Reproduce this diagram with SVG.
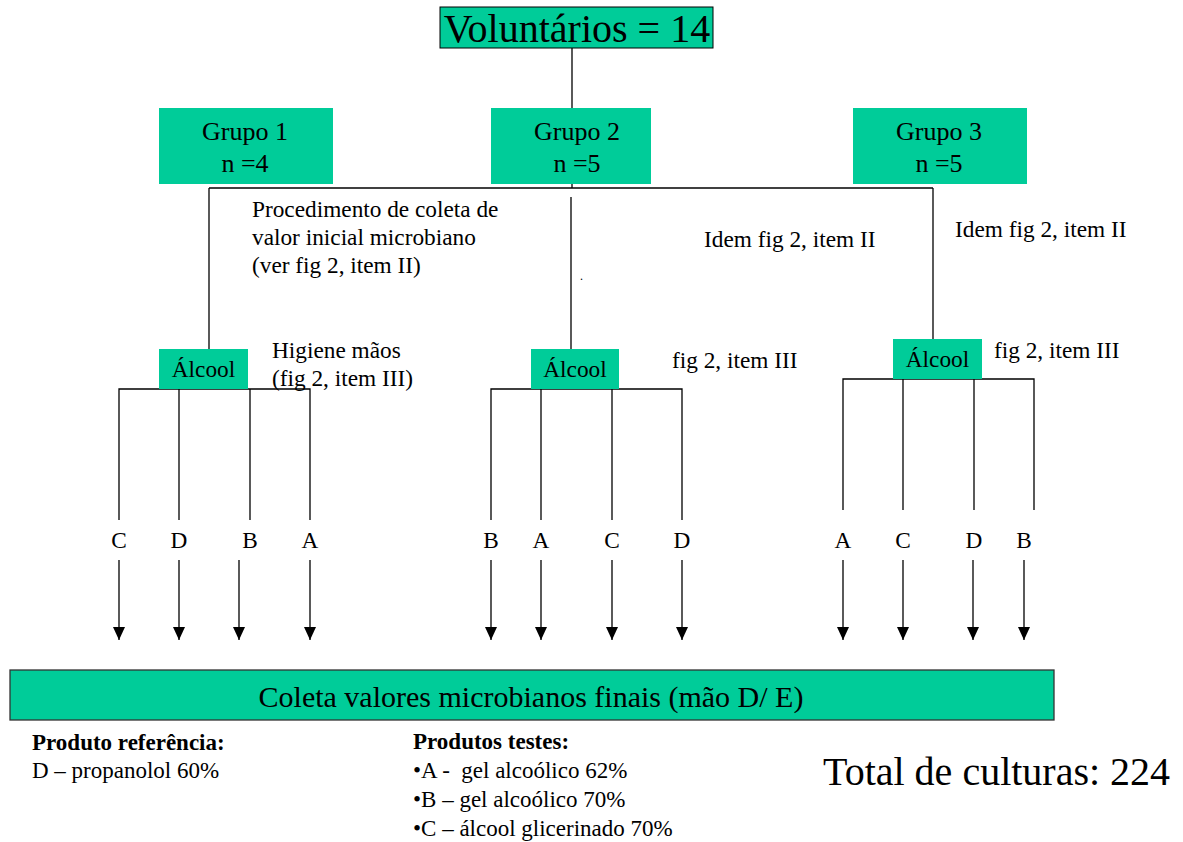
<svg xmlns="http://www.w3.org/2000/svg" width="1183" height="842" viewBox="0 0 1183 842">
<style>
text{font-family:"Liberation Serif","Times New Roman",serif;fill:#000}
.box{fill:#00CC99}
.ln{stroke:#000;stroke-width:1.3;fill:none}
.t23{font-size:23.3px}
.t25{font-size:26px}
.lg{font-size:23px}
.mid{text-anchor:middle}
</style>
<defs>
<marker id="ah2" markerWidth="12" markerHeight="14" refX="6" refY="13" markerUnits="userSpaceOnUse" viewBox="0 0 12 14">
<path d="M0,0 L12,0 L6,13 Z" fill="#000"/>
</marker>
</defs>
<rect width="1183" height="842" fill="#fff"/>
<g id="connectors">
<line class="ln" x1="572" y1="48" x2="572" y2="188"/>
<line class="ln" x1="209" y1="188" x2="933" y2="188"/>
<line class="ln" x1="209" y1="188" x2="209" y2="349"/>
<line class="ln" x1="571" y1="197" x2="571" y2="349"/>
<line class="ln" x1="933" y1="188" x2="933" y2="339"/>
<polyline class="ln" points="119,520 119,389 310,389 310,520"/>
<line class="ln" x1="179" y1="389" x2="179" y2="520"/>
<line class="ln" x1="250" y1="389" x2="250" y2="520"/>
<polyline class="ln" points="491,520 491,389 682,389 682,520"/>
<line class="ln" x1="541" y1="389" x2="541" y2="520"/>
<line class="ln" x1="612" y1="389" x2="612" y2="520"/>
<polyline class="ln" points="843,510 843,379 1034,379 1034,510"/>
<line class="ln" x1="903" y1="379" x2="903" y2="510"/>
<line class="ln" x1="974" y1="379" x2="974" y2="510"/>
<g class="ln">
<line x1="119" y1="560" x2="119" y2="640" marker-end="url(#ah2)"/>
<line x1="179" y1="560" x2="179" y2="640" marker-end="url(#ah2)"/>
<line x1="239" y1="560" x2="239" y2="640" marker-end="url(#ah2)"/>
<line x1="310" y1="560" x2="310" y2="640" marker-end="url(#ah2)"/>
<line x1="491" y1="560" x2="491" y2="640" marker-end="url(#ah2)"/>
<line x1="541" y1="560" x2="541" y2="640" marker-end="url(#ah2)"/>
<line x1="612" y1="560" x2="612" y2="640" marker-end="url(#ah2)"/>
<line x1="682" y1="560" x2="682" y2="640" marker-end="url(#ah2)"/>
<line x1="843" y1="560" x2="843" y2="640" marker-end="url(#ah2)"/>
<line x1="903" y1="560" x2="903" y2="640" marker-end="url(#ah2)"/>
<line x1="973" y1="560" x2="973" y2="640" marker-end="url(#ah2)"/>
<line x1="1024" y1="560" x2="1024" y2="640" marker-end="url(#ah2)"/>
</g>
</g>
<g id="voluntarios">
<rect class="box" x="440" y="7" width="273" height="41" stroke="#000" stroke-width="1"/>
<text x="577" y="42" class="mid" font-size="40">Voluntários = 14</text>
</g>
<g id="grupo1">
<rect class="box" x="159" y="108" width="174" height="76"/>
<text x="245" y="140" class="mid t25">Grupo 1</text>
<text x="245" y="172" class="mid t25">n =4</text>
</g>
<g id="grupo2">
<rect class="box" x="491" y="108" width="160" height="76"/>
<text x="577" y="140" class="mid t25">Grupo 2</text>
<text x="577" y="172" class="mid t25">n =5</text>
</g>
<g id="grupo3">
<rect class="box" x="853" y="108" width="174" height="76"/>
<text x="939" y="140" class="mid t25">Grupo 3</text>
<text x="939" y="172" class="mid t25">n =5</text>
</g>
<g id="notes">
<text x="252" y="217" class="t23">Procedimento de coleta de</text>
<text x="252" y="245" class="t23">valor inicial microbiano</text>
<text x="252" y="273" class="t23">(ver fig 2, item II)</text>
<text x="580" y="280" font-size="12">.</text>
<text x="704" y="247" class="t23">Idem fig 2, item II</text>
<text x="955" y="237" class="t23">Idem fig 2, item II</text>
<text x="272" y="358" class="t23">Higiene mãos</text>
<text x="272" y="386" class="t23">(fig 2, item III)</text>
<text x="672" y="368" class="t23">fig 2, item III</text>
<text x="994" y="358" class="t23">fig 2, item III</text>
</g>
<g id="alcool1">
<rect class="box" x="159" y="349" width="89" height="40"/>
<text x="203.5" y="377" class="mid t23">Álcool</text>
</g>
<g id="alcool2">
<rect class="box" x="531" y="349" width="88" height="40"/>
<text x="575" y="377" class="mid t23">Álcool</text>
</g>
<g id="alcool3">
<rect class="box" x="893" y="339" width="89" height="40"/>
<text x="937.5" y="367" class="mid t23">Álcool</text>
</g>
<g id="labels" class="t23">
<text x="119" y="548" class="mid">C</text>
<text x="179" y="548" class="mid">D</text>
<text x="250" y="548" class="mid">B</text>
<text x="310" y="548" class="mid">A</text>
<text x="491" y="548" class="mid">B</text>
<text x="541" y="548" class="mid">A</text>
<text x="612" y="548" class="mid">C</text>
<text x="682" y="548" class="mid">D</text>
<text x="843" y="548" class="mid">A</text>
<text x="903" y="548" class="mid">C</text>
<text x="974" y="548" class="mid">D</text>
<text x="1024" y="548" class="mid">B</text>
</g>
<g id="coleta">
<rect class="box" x="10" y="670" width="1044" height="50" stroke="#333" stroke-width="1.3"/>
<text x="531" y="707" class="mid" font-size="30">Coleta valores microbianos finais (mão D/ E)</text>
</g>
<g id="legend">
<text x="32" y="750" class="lg" font-weight="bold">Produto referência:</text>
<text x="32" y="778" class="lg">D – propanolol 60%</text>
<text x="413" y="749" class="lg" font-weight="bold">Produtos testes:</text>
<text x="413" y="778" class="lg" xml:space="preserve">•A -  gel alcoólico 62%</text>
<text x="413" y="807" class="lg">•B – gel alcoólico 70%</text>
<text x="413" y="836" class="lg">•C – álcool glicerinado 70%</text>
<text x="823" y="785" font-size="40">Total de culturas: 224</text>
</g>
</svg>
